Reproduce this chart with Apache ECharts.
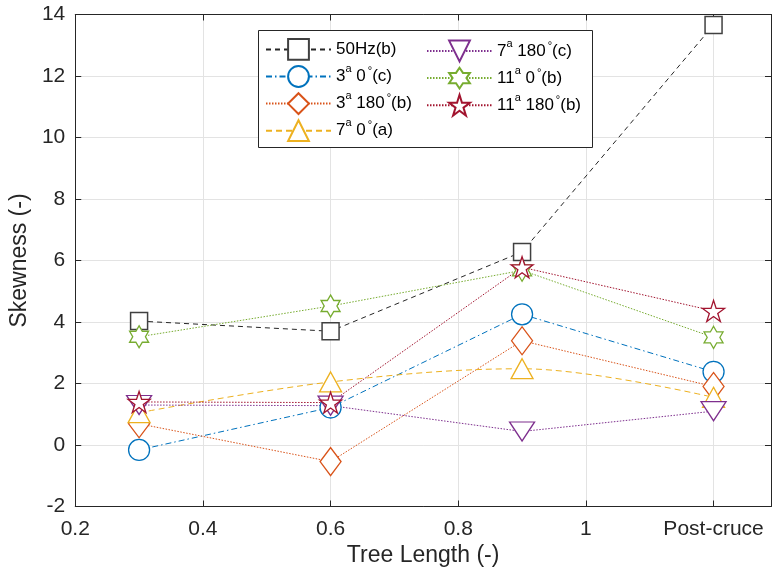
<!DOCTYPE html>
<html>
<head>
<meta charset="utf-8">
<script src="https://cdn.jsdelivr.net/npm/echarts@6/dist/echarts.min.js"></script>
<style>html,body{margin:0;padding:0;background:#fff}#c{width:772px;height:576px}</style>
</head>
<body>
<div id="c"></div>
<script>
// ---- data ----
const xValues = [0.3, 0.6, 0.9, 1.2];
const xTickLabels = {0.2: '0.2', 0.4: '0.4', 0.6: '0.6', 0.8: '0.8', 1: '1', 1.2: 'Post-cruce'};
const yTicks = [-2, 0, 2, 4, 6, 8, 10, 12, 14];
const s50Hz   = [4.03, 3.70, 6.28, 13.66];
const s3a0    = [-0.16, 1.22, 4.25, 2.38];
const s3a180  = [0.69, -0.54, 3.39, 1.90];
const s7a0    = [1.05, 2.05, 2.48, 1.55];
const s7a180  = [1.30, 1.28, 0.44, 1.10];
const s11a0   = [3.52, 4.52, 5.68, 3.50];
const s11a180 = [1.40, 1.38, 5.78, 4.36];

const legendLabels = {
  's50': '{n|50Hz(b)}',
  's3a0': '{n|3}{s|a}{n| 0}{d|°}{n|(c)}',
  's3a180': '{n|3}{s|a}{n| 180}{d|°}{n|(b)}',
  's7a0': '{n|7}{s|a}{n| 0}{d|°}{n|(a)}',
  's7a180': '{n|7}{s|a}{n| 180}{d|°}{n|(c)}',
  's11a0': '{n|11}{s|a}{n| 0}{d|°}{n|(b)}',
  's11a180': '{n|11}{s|a}{n| 180}{d|°}{n|(b)}'
};

const PENTA = 'path://M0 -100 L22.45 -30.9 L95.1 -30.9 L36.3 11.8 L58.8 80.9 L0 38.2 L-58.8 80.9 L-36.3 11.8 L-95.1 -30.9 L-22.45 -30.9 Z';
const HEXA = 'path://M0 -100 L28.87 -50 L86.6 -50 L57.7 0 L86.6 50 L28.87 50 L0 100 L-28.87 50 L-86.6 50 L-57.7 0 L-86.6 -50 L-28.87 -50 Z';

function pairs(arr){ return xValues.map((x,i)=>[x, arr[i]]); }

function mk(id, data, color, dash, symbol, size, extra){
  return Object.assign({
    id: id, name: id, type: 'line', data: pairs(data),
    symbol: symbol, symbolSize: size, showAllSymbol: true,
    lineStyle: {color: color, width: 1, type: dash},
    itemStyle: {color: '#ffffff', borderColor: color, borderWidth: 1.3},
    emphasis: {disabled: true}, animation: false
  }, extra || {});
}

const series = [
  mk('s50', s50Hz, '#262626', [5,4], 'rect', 17, {itemStyle:{color:'#fff',borderColor:'#404040',borderWidth:1.5}}),
  mk('s3a0', s3a0, '#0072BD', [6,3,1.5,3], 'circle', 21),
  mk('s3a180', s3a180, '#D95319', [1.5,1.5], 'diamond', [21,28]),
  mk('s7a0', s7a0, '#EDB120', [6,4], 'triangle', [22,20], {smooth: 0.35}),
  mk('s7a180', s7a180, '#7E2F8E', [1.5,1.5], 'triangle', [25,19], {symbolRotate: 180}),
  mk('s11a0', s11a0, '#77AC30', [1.5,1.5], HEXA, [19,22]),
  mk('s11a180', s11a180, '#A2142F', [1.5,1.5], PENTA, [22,21])
];

const FONT = 'Liberation Sans';
const legendCommon = {
  orient: 'vertical', itemWidth: 65, itemHeight: 26, itemGap: 2.7,
  z: 20, selectedMode: false,
  formatter: name => legendLabels[name],
  textStyle: {
    fontFamily: FONT, color: '#000',
    rich: {
      n: {fontSize: 17, fontFamily: FONT, color: '#000', lineHeight: 26, verticalAlign: 'middle'},
      s: {fontSize: 11, fontFamily: FONT, color: '#000', lineHeight: 12, verticalAlign: 'top'},
      d: {fontSize: 11, fontFamily: FONT, color: '#000', lineHeight: 12, verticalAlign: 'top', padding: [2, 0, 0, 2]}
    }
  }
};

const chart = echarts.init(document.getElementById('c'), null, {renderer: 'canvas'});
chart.setOption({
  backgroundColor: '#fff',
  animation: false,
  grid: {left: 73, top: 14.5, width: 698, height: 492, containLabel: false},
  xAxis: [{
    type: 'value', min: 0.2, max: 1.29, interval: 0.2,
    name: 'Tree Length (-)', nameLocation: 'middle', nameGap: 38,
    nameTextStyle: {fontFamily: FONT, fontSize: 23, color: '#262626'},
    axisLine: {show: true, onZero: false, lineStyle: {color: '#262626', width: 1}},
    axisTick: {show: true, inside: true, length: 6, lineStyle: {color: '#262626'}},
    axisLabel: {fontFamily: FONT, fontSize: 21, color: '#262626', margin: 12,
      formatter: v => { const k = Math.round(v*10)/10; return xTickLabels[k] !== undefined ? xTickLabels[k] : ''; },
      showMaxLabel: false},
    splitLine: {show: true, lineStyle: {color: '#e3e3e3', width: 1}}
  }, {
    type: 'value', position: 'top', min: 0.2, max: 1.29, interval: 0.2,
    axisLine: {show: true, onZero: false, lineStyle: {color: '#262626', width: 1}},
    axisTick: {show: true, inside: true, length: 6, lineStyle: {color: '#262626'}},
    axisLabel: {show: false}, splitLine: {show: false}
  }],
  yAxis: [{
    type: 'value', min: yTicks[0], max: yTicks[yTicks.length-1], interval: 2,
    name: 'Skewness (-)', nameLocation: 'middle', nameGap: 44, nameRotate: 90,
    nameTextStyle: {fontFamily: FONT, fontSize: 23, color: '#262626'},
    axisLine: {show: true, onZero: false, lineStyle: {color: '#262626', width: 1}},
    axisTick: {show: true, inside: true, length: 6, lineStyle: {color: '#262626'}},
    axisLabel: {fontFamily: FONT, fontSize: 21, color: '#262626', margin: 10},
    splitLine: {show: true, lineStyle: {color: '#e3e3e3', width: 1}}
  }, {
    type: 'value', position: 'right', min: -2, max: 14, interval: 2,
    axisLine: {show: true, onZero: false, lineStyle: {color: '#262626', width: 1}},
    axisTick: {show: true, inside: true, length: 6, lineStyle: {color: '#262626'}},
    axisLabel: {show: false}, splitLine: {show: false}
  }],
  graphic: [{
    type: 'rect', z: 15, left: 258, top: 30,
    shape: {x: 0, y: 0, width: 334, height: 117},
    style: {fill: '#fff', stroke: '#262626', lineWidth: 1}
  }],
  legend: [
    Object.assign({}, legendCommon, {left: 260, top: 33, data: ['s50','s3a0','s3a180','s7a0']}),
    Object.assign({}, legendCommon, {left: 421, top: 33, data: ['s7a180','s11a0','s11a180']})
  ],
  series: series
});
</script>
</body>
</html>
